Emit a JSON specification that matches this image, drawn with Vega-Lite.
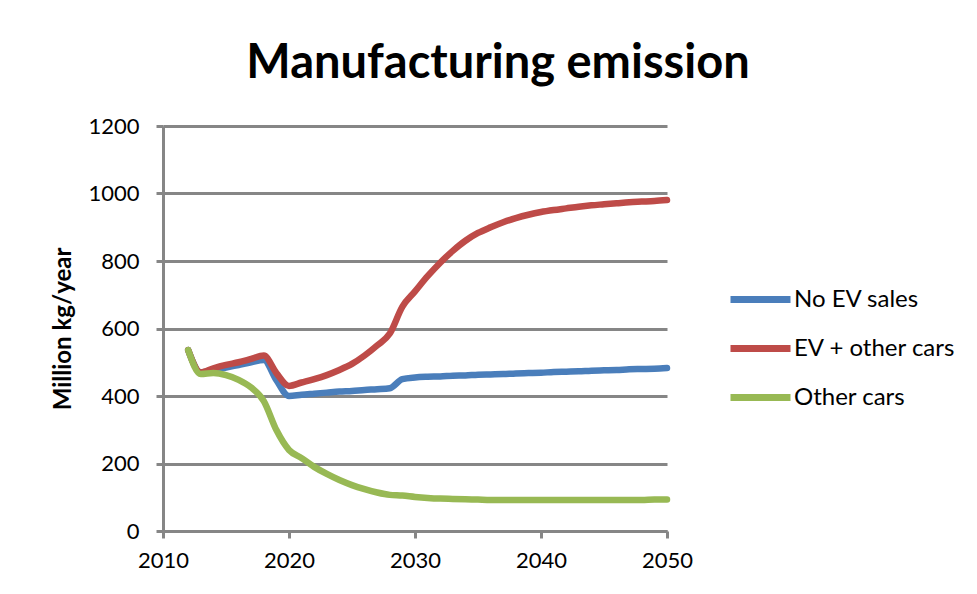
{
  "$schema": "https://vega.github.io/schema/vega-lite/v6.json",
  "width": 504,
  "height": 405,
  "autosize": {"type": "none"},
  "padding": {"left": 163, "top": 126, "right": 310, "bottom": 63},
  "background": "white",
  "title": {
    "text": "Manufacturing emission",
    "font": "Lato",
    "fontSize": 47,
    "fontWeight": "bold",
    "color": "#000000",
    "anchor": "middle",
    "frame": "group",
    "dx": 83,
    "offset": -10,
    "baseline": "alphabetic"
  },
  "data": {
    "values": [
      {"year": 2012, "series": "No EV sales", "value": 536},
      {"year": 2013, "series": "No EV sales", "value": 470},
      {"year": 2014, "series": "No EV sales", "value": 476},
      {"year": 2015, "series": "No EV sales", "value": 484},
      {"year": 2016, "series": "No EV sales", "value": 492},
      {"year": 2017, "series": "No EV sales", "value": 500},
      {"year": 2018, "series": "No EV sales", "value": 507},
      {"year": 2019, "series": "No EV sales", "value": 447},
      {"year": 2020, "series": "No EV sales", "value": 400},
      {"year": 2021, "series": "No EV sales", "value": 404},
      {"year": 2022, "series": "No EV sales", "value": 407},
      {"year": 2023, "series": "No EV sales", "value": 410},
      {"year": 2024, "series": "No EV sales", "value": 413},
      {"year": 2025, "series": "No EV sales", "value": 415},
      {"year": 2026, "series": "No EV sales", "value": 418},
      {"year": 2027, "series": "No EV sales", "value": 420},
      {"year": 2028, "series": "No EV sales", "value": 423},
      {"year": 2029, "series": "No EV sales", "value": 450},
      {"year": 2030, "series": "No EV sales", "value": 455},
      {"year": 2031, "series": "No EV sales", "value": 457},
      {"year": 2032, "series": "No EV sales", "value": 458},
      {"year": 2033, "series": "No EV sales", "value": 460},
      {"year": 2034, "series": "No EV sales", "value": 461},
      {"year": 2035, "series": "No EV sales", "value": 463},
      {"year": 2036, "series": "No EV sales", "value": 464},
      {"year": 2037, "series": "No EV sales", "value": 465},
      {"year": 2038, "series": "No EV sales", "value": 467},
      {"year": 2039, "series": "No EV sales", "value": 468},
      {"year": 2040, "series": "No EV sales", "value": 469},
      {"year": 2041, "series": "No EV sales", "value": 471},
      {"year": 2042, "series": "No EV sales", "value": 472},
      {"year": 2043, "series": "No EV sales", "value": 473},
      {"year": 2044, "series": "No EV sales", "value": 475},
      {"year": 2045, "series": "No EV sales", "value": 476},
      {"year": 2046, "series": "No EV sales", "value": 477},
      {"year": 2047, "series": "No EV sales", "value": 479},
      {"year": 2048, "series": "No EV sales", "value": 480},
      {"year": 2049, "series": "No EV sales", "value": 481},
      {"year": 2050, "series": "No EV sales", "value": 483},
      {"year": 2012, "series": "EV + other cars", "value": 536},
      {"year": 2013, "series": "EV + other cars", "value": 470},
      {"year": 2014, "series": "EV + other cars", "value": 482},
      {"year": 2015, "series": "EV + other cars", "value": 492},
      {"year": 2016, "series": "EV + other cars", "value": 500},
      {"year": 2017, "series": "EV + other cars", "value": 510},
      {"year": 2018, "series": "EV + other cars", "value": 520},
      {"year": 2019, "series": "EV + other cars", "value": 468},
      {"year": 2020, "series": "EV + other cars", "value": 430},
      {"year": 2021, "series": "EV + other cars", "value": 440},
      {"year": 2022, "series": "EV + other cars", "value": 450},
      {"year": 2023, "series": "EV + other cars", "value": 462},
      {"year": 2024, "series": "EV + other cars", "value": 477},
      {"year": 2025, "series": "EV + other cars", "value": 495},
      {"year": 2026, "series": "EV + other cars", "value": 520},
      {"year": 2027, "series": "EV + other cars", "value": 550},
      {"year": 2028, "series": "EV + other cars", "value": 585},
      {"year": 2029, "series": "EV + other cars", "value": 665},
      {"year": 2030, "series": "EV + other cars", "value": 710},
      {"year": 2031, "series": "EV + other cars", "value": 755},
      {"year": 2032, "series": "EV + other cars", "value": 795},
      {"year": 2033, "series": "EV + other cars", "value": 830},
      {"year": 2034, "series": "EV + other cars", "value": 860},
      {"year": 2035, "series": "EV + other cars", "value": 883},
      {"year": 2036, "series": "EV + other cars", "value": 900},
      {"year": 2037, "series": "EV + other cars", "value": 915},
      {"year": 2038, "series": "EV + other cars", "value": 927},
      {"year": 2039, "series": "EV + other cars", "value": 937},
      {"year": 2040, "series": "EV + other cars", "value": 945},
      {"year": 2041, "series": "EV + other cars", "value": 951},
      {"year": 2042, "series": "EV + other cars", "value": 956},
      {"year": 2043, "series": "EV + other cars", "value": 961},
      {"year": 2044, "series": "EV + other cars", "value": 965},
      {"year": 2045, "series": "EV + other cars", "value": 968},
      {"year": 2046, "series": "EV + other cars", "value": 971},
      {"year": 2047, "series": "EV + other cars", "value": 974},
      {"year": 2048, "series": "EV + other cars", "value": 976},
      {"year": 2049, "series": "EV + other cars", "value": 978},
      {"year": 2050, "series": "EV + other cars", "value": 981},
      {"year": 2012, "series": "Other cars", "value": 536},
      {"year": 2013, "series": "Other cars", "value": 465},
      {"year": 2014, "series": "Other cars", "value": 468},
      {"year": 2015, "series": "Other cars", "value": 462},
      {"year": 2016, "series": "Other cars", "value": 448},
      {"year": 2017, "series": "Other cars", "value": 425},
      {"year": 2018, "series": "Other cars", "value": 385},
      {"year": 2019, "series": "Other cars", "value": 299},
      {"year": 2020, "series": "Other cars", "value": 240},
      {"year": 2021, "series": "Other cars", "value": 216},
      {"year": 2022, "series": "Other cars", "value": 190},
      {"year": 2023, "series": "Other cars", "value": 169},
      {"year": 2024, "series": "Other cars", "value": 151},
      {"year": 2025, "series": "Other cars", "value": 136},
      {"year": 2026, "series": "Other cars", "value": 124},
      {"year": 2027, "series": "Other cars", "value": 114},
      {"year": 2028, "series": "Other cars", "value": 107},
      {"year": 2029, "series": "Other cars", "value": 105},
      {"year": 2030, "series": "Other cars", "value": 101},
      {"year": 2031, "series": "Other cars", "value": 98},
      {"year": 2032, "series": "Other cars", "value": 96},
      {"year": 2033, "series": "Other cars", "value": 95},
      {"year": 2034, "series": "Other cars", "value": 94},
      {"year": 2035, "series": "Other cars", "value": 93},
      {"year": 2036, "series": "Other cars", "value": 92},
      {"year": 2037, "series": "Other cars", "value": 92},
      {"year": 2038, "series": "Other cars", "value": 92},
      {"year": 2039, "series": "Other cars", "value": 92},
      {"year": 2040, "series": "Other cars", "value": 92},
      {"year": 2041, "series": "Other cars", "value": 92},
      {"year": 2042, "series": "Other cars", "value": 92},
      {"year": 2043, "series": "Other cars", "value": 92},
      {"year": 2044, "series": "Other cars", "value": 92},
      {"year": 2045, "series": "Other cars", "value": 92},
      {"year": 2046, "series": "Other cars", "value": 92},
      {"year": 2047, "series": "Other cars", "value": 92},
      {"year": 2048, "series": "Other cars", "value": 92},
      {"year": 2049, "series": "Other cars", "value": 93},
      {"year": 2050, "series": "Other cars", "value": 93}
    ]
  },
  "mark": {
    "type": "line",
    "interpolate": "monotone",
    "strokeWidth": 6.5,
    "strokeCap": "round",
    "strokeJoin": "round"
  },
  "encoding": {
    "x": {
      "field": "year",
      "type": "quantitative",
      "scale": {"domain": [2010, 2050], "nice": false, "zero": false},
      "axis": {
        "title": null,
        "values": [2010, 2020, 2030, 2040, 2050],
        "format": "d",
        "grid": false,
        "domainColor": "#868686",
        "domainWidth": 3,
        "tickColor": "#868686",
        "tickWidth": 3,
        "tickSize": 7,
        "labelFont": "Lato",
        "labelFontSize": 22,
        "labelColor": "#000000",
        "labelPadding": 12,
        "labelFlush": false
      }
    },
    "y": {
      "field": "value",
      "type": "quantitative",
      "scale": {"domain": [0, 1200], "nice": false},
      "axis": {
        "title": "Million kg/year",
        "titleFont": "Lato",
        "titleFontSize": 24,
        "titleFontWeight": "bold",
        "titleColor": "#000000",
        "titlePadding": 12,
        "values": [0, 200, 400, 600, 800, 1000, 1200],
        "format": "d",
        "grid": true,
        "gridColor": "#868686",
        "gridWidth": 3,
        "domainColor": "#868686",
        "domainWidth": 3,
        "tickColor": "#868686",
        "tickWidth": 3,
        "tickSize": 7,
        "labelFont": "Lato",
        "labelFontSize": 22,
        "labelColor": "#000000",
        "labelPadding": 17
      }
    },
    "color": {
      "field": "series",
      "type": "nominal",
      "scale": {
        "domain": ["No EV sales", "EV + other cars", "Other cars"],
        "range": ["#4a7ebb", "#be4b48", "#98b954"]
      },
      "legend": {
        "title": null,
        "orient": "none",
        "legendX": 564,
        "legendY": 140,
        "symbolType": "stroke",
        "symbolSize": 3600,
        "symbolStrokeWidth": 7,
        "labelFont": "Lato",
        "labelFontSize": 24,
        "labelColor": "#000000",
        "labelOffset": 0,
        "labelLimit": 400,
        "rowPadding": 1
      }
    }
  },
  "config": {
    "view": {"stroke": null}
  }
}
